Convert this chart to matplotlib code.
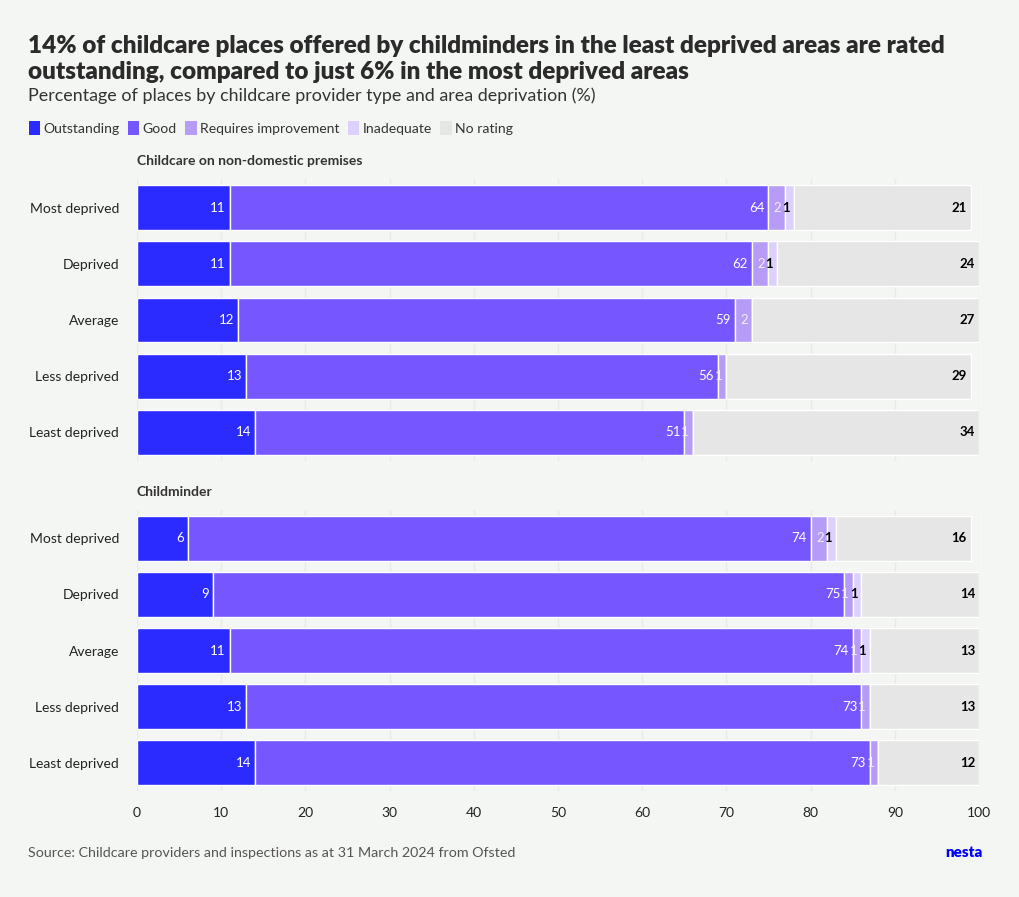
import matplotlib.pyplot as plt
from matplotlib.patches import Patch

plt.rcParams['font.family'] = ['Lato', 'DejaVu Sans']

rows = ['Most deprived', 'Deprived', 'Average', 'Less deprived', 'Least deprived']
categories = ['Outstanding', 'Good', 'Requires improvement', 'Inadequate', 'No rating']
colors = ['#2b2bff', '#7656ff', '#b79cf7', '#ddd0fd', '#e5e6e5']
label_colors = ['white', 'white', '#f3eeff', 'black', 'black']

# values per category, one entry per row
nondomestic = {
    'Outstanding': [11, 11, 12, 13, 14],
    'Good': [64, 62, 59, 56, 51],
    'Requires improvement': [2, 2, 2, 1, 1],
    'Inadequate': [1, 1, 0, 0, 0],
    'No rating': [21, 24, 27, 29, 34],
}
childminder = {
    'Outstanding': [6, 9, 11, 13, 14],
    'Good': [74, 75, 74, 73, 73],
    'Requires improvement': [2, 1, 1, 1, 1],
    'Inadequate': [1, 1, 1, 0, 0],
    'No rating': [16, 14, 13, 13, 12],
}

bg = '#f4f6f3'
fig = plt.figure(figsize=(10.2, 8.97), dpi=100, facecolor=bg)

ax1 = fig.add_axes([0.1343, 0.4866, 0.8255, 0.3133])
ax2 = fig.add_axes([0.1343, 0.1187, 0.8255, 0.3122])


def draw(ax, data, title):
    ax.set_facecolor(bg)
    y = list(range(len(rows)))
    left = [0] * len(rows)
    for cat, col, lc in zip(categories, colors, label_colors):
        vals = data[cat]
        ax.barh(y, vals, left=left, height=0.8, color=col,
                edgecolor='white', linewidth=1, zorder=3)
        for i, v in enumerate(vals):
            if v > 0:
                end = left[i] + v
                weight = 'bold' if lc == 'black' else 'normal'
                ax.text(end - 0.45, i, str(v), ha='right', va='center',
                        color=lc, fontsize=9.5, fontweight=weight, zorder=4)
        left = [a + b for a, b in zip(left, vals)]
    ax.set_xlim(0, 100)
    ax.set_ylim(len(rows) - 0.5, -0.5)
    ax.set_yticks(y)
    ax.set_yticklabels(rows, fontsize=10, color='#222222')
    ax.set_xticks(range(0, 101, 10))
    ax.grid(axis='x', color='#e8eae7', linewidth=1, zorder=0)
    for s in ax.spines.values():
        s.set_visible(False)
    ax.tick_params(axis='both', length=0)
    ax.tick_params(axis='y', pad=13)
    ax.tick_params(axis='x', pad=12, labelsize=10, labelcolor='#222222')
    ax.text(0, -0.72, title, fontsize=10, fontweight='bold', color='#333333',
            ha='left', va='bottom')


draw(ax1, nondomestic, 'Childcare on non-domestic premises')
draw(ax2, childminder, 'Childminder')
ax1.set_xticklabels([])

fig.text(28 / 1020, 1 - 59 / 897,
         '14% of childcare places offered by childminders in the least deprived areas are rated\n'
         'outstanding, compared to just 6% in the most deprived areas',
         fontsize=17.5, fontweight='heavy', color='#2b2b2b', ha='left', va='center',
         linespacing=1.25)
fig.text(28 / 1020, 1 - 96 / 897,
         'Percentage of places by childcare provider type and area deprivation (%)',
         fontsize=12.9, color='#333333', ha='left', va='center')

handles = [Patch(facecolor=c, edgecolor='none', label=l) for c, l in zip(colors, categories)]
fig.legend(handles=handles, loc='center left', bbox_to_anchor=(16 / 1020, 1 - 128 / 897),
           ncol=5, frameon=False, fontsize=10.1, handlelength=0.8, handleheight=1.1,
           handletextpad=0.25, columnspacing=0.6, labelcolor='#333333')

fig.text(28 / 1020, 1 - 853 / 897,
         'Source: Childcare providers and inspections as at 31 March 2024 from Ofsted',
         fontsize=10.25, color='#555555', ha='left', va='center')
fig.text(983 / 1020, 1 - 852 / 897, 'nesta', fontsize=11, fontweight='heavy',
         color='#0000ff', ha='right', va='center')

fig.savefig('out.png', dpi=100, facecolor=bg)
